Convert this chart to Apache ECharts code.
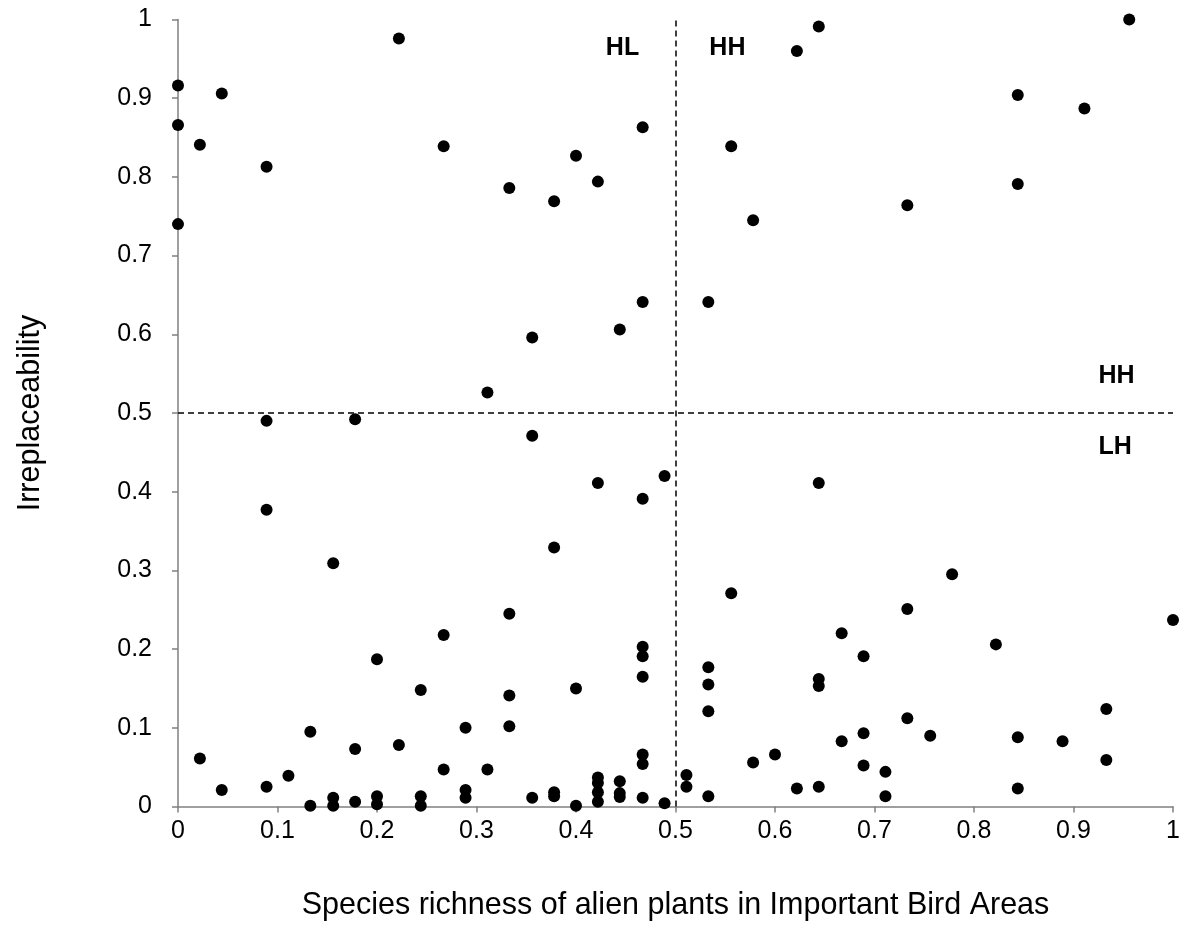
<!DOCTYPE html>
<html>
<head>
<meta charset="utf-8">
<title>Irreplaceability vs alien plant richness</title>
<script src="https://cdn.jsdelivr.net/npm/echarts@6/dist/echarts.min.js"></script>
<style>
  html, body { margin: 0; padding: 0; background: #ffffff; }
  #chart { width: 1179px; height: 945px; }
</style>
</head>
<body>
<div id="chart"></div>
<script>
// Species richness of alien plants (scaled 0-1) for each Important Bird Area
const richness = [
  0.000, 0.000, 0.000, 0.044, 0.022, 0.089, 0.222, 0.267, 0.333, 0.622, 0.644,
  0.467, 0.400, 0.378, 0.422, 0.556, 0.578, 0.956, 0.844, 0.911, 0.844, 0.733,
  0.311, 0.089, 0.178, 0.089, 0.156, 0.467, 0.533, 0.444, 0.356, 0.356, 0.422,
  0.467, 0.489, 0.644, 0.378,
  0.333, 0.267, 0.200, 0.244, 0.333, 0.133, 0.289, 0.333, 0.178, 0.222, 0.022,
  0.044, 0.089, 0.111, 0.133, 0.156, 0.156, 0.178, 0.200, 0.200, 0.244, 0.244,
  0.267, 0.289, 0.289, 0.311,
  0.556, 0.667, 0.467, 0.467, 0.467, 0.400, 0.533, 0.533, 0.533, 0.644, 0.644,
  0.667, 0.467, 0.467, 0.578, 0.600, 0.511, 0.511, 0.622, 0.644, 0.356, 0.378,
  0.378, 0.400, 0.422, 0.422, 0.422, 0.422, 0.444, 0.444, 0.444, 0.467, 0.489,
  0.533,
  0.778, 0.733, 0.689, 0.822, 1.000, 0.933, 0.733, 0.689, 0.756, 0.844, 0.889,
  0.933, 0.689, 0.711, 0.844, 0.711
];

// Irreplaceability of the same areas, in the same order
const irreplaceability = [
  0.916, 0.866, 0.740, 0.906, 0.841, 0.813, 0.976, 0.839, 0.786, 0.960, 0.991,
  0.863, 0.827, 0.769, 0.794, 0.839, 0.745, 1.000, 0.904, 0.887, 0.791, 0.764,
  0.526, 0.490, 0.492, 0.377, 0.309, 0.641, 0.641, 0.606, 0.596, 0.471, 0.411,
  0.391, 0.420, 0.411, 0.329,
  0.245, 0.218, 0.187, 0.148, 0.141, 0.095, 0.100, 0.102, 0.073, 0.078, 0.061,
  0.021, 0.025, 0.039, 0.001, 0.011, 0.001, 0.006, 0.013, 0.003, 0.013, 0.001,
  0.047, 0.021, 0.011, 0.047,
  0.271, 0.220, 0.203, 0.191, 0.165, 0.150, 0.177, 0.155, 0.121, 0.162, 0.153,
  0.083, 0.066, 0.054, 0.056, 0.066, 0.040, 0.025, 0.023, 0.025, 0.011, 0.018,
  0.013, 0.001, 0.037, 0.030, 0.018, 0.006, 0.032, 0.017, 0.012, 0.011, 0.004,
  0.013,
  0.295, 0.251, 0.191, 0.206, 0.237, 0.124, 0.112, 0.093, 0.090, 0.088, 0.083,
  0.059, 0.052, 0.044, 0.023, 0.013
];

// Tick labels shared by both axes
const tickLabels = ['0', '0.1', '0.2', '0.3', '0.4', '0.5', '0.6', '0.7', '0.8', '0.9', '1'];

// Quadrant thresholds
const xThreshold = 0.5;
const yThreshold = 0.5;

// Quadrant names and where they sit (data coordinates)
const quadrantNames = ['HL', 'HH', 'HH', 'LH'];
const quadrantX = [0.430, 0.534, 0.925, 0.925];
const quadrantY = [0.964, 0.964, 0.547, 0.457];

const FONT = '"Liberation Sans", Arial, Helvetica, sans-serif';

const points = richness.map((x, i) => [x, irreplaceability[i]]);
const quadrantData = quadrantNames.map((n, i) => ({ name: n, value: [quadrantX[i], quadrantY[i]] }));

const axisCommon = {
  type: 'value',
  min: 0,
  max: 1,
  interval: 0.1,
  splitLine: { show: false },
  axisLine: { show: true, lineStyle: { color: '#808080', width: 1.5 } },
  axisTick: { show: true, inside: false, length: 6, lineStyle: { color: '#808080', width: 1.5 } },
  axisLabel: {
    color: '#000',
    fontFamily: FONT,
    fontSize: 25,
    formatter: v => tickLabels[Math.round(v * 10)]
  },
  nameLocation: 'middle',
  nameTextStyle: { color: '#000', fontFamily: FONT, fontSize: 30.5 }
};

const chart = echarts.init(document.getElementById('chart'), null, { renderer: 'canvas' });

chart.setOption({
  backgroundColor: '#ffffff',
  animation: false,
  grid: {
    left: 178, right: 6, top: 19.5, bottom: 138.5,
    containLabel: false,
    outerBoundsMode: 'none'
  },
  xAxis: Object.assign({}, axisCommon, {
    name: 'Species richness of alien plants in Important Bird Areas',
    nameGap: 84,
    axisLabel: Object.assign({}, axisCommon.axisLabel, { margin: 12 })
  }),
  yAxis: Object.assign({}, axisCommon, {
    name: 'Irreplaceability',
    nameGap: 132,
    axisLabel: Object.assign({}, axisCommon.axisLabel, { margin: 26 })
  }),
  series: [
    {
      name: 'IBA',
      type: 'scatter',
      data: points,
      symbol: 'circle',
      symbolSize: 12,
      clip: false,
      itemStyle: { color: '#000', opacity: 1 },
      markLine: {
        silent: true,
        symbol: ['none', 'none'],
        label: { show: false },
        lineStyle: { color: '#000', width: 1.5, type: [6, 4], opacity: 1 },
        data: [{ xAxis: xThreshold }, { yAxis: yThreshold }]
      }
    },
    {
      name: 'quadrants',
      type: 'scatter',
      data: quadrantData,
      symbolSize: 0,
      silent: true,
      clip: false,
      itemStyle: { opacity: 1 },
      label: {
        show: true,
        position: 'right',
        distance: 0,
        formatter: '{b}',
        color: '#000',
        fontFamily: FONT,
        fontSize: 25,
        fontWeight: 'bold'
      }
    }
  ]
});
</script>
</body>
</html>
